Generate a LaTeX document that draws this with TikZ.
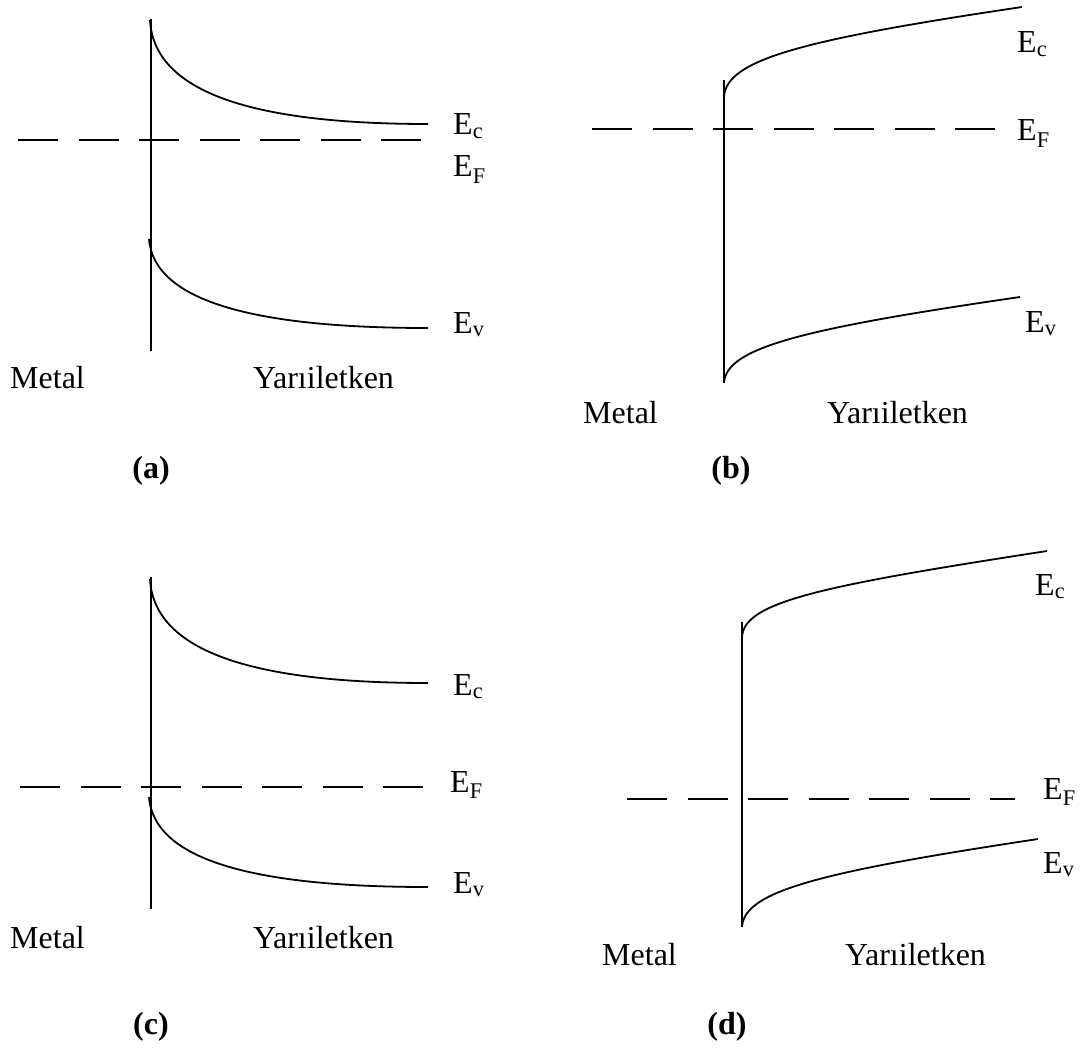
\documentclass[tikz,border=0pt]{standalone}
\usepackage{fontspec}
\setmainfont{Liberation Serif}
\begin{document}
\begin{tikzpicture}[x=1pt,y=-1pt,
  band/.style={line width=1.8pt},
  fermi/.style={line width=1.8pt,dash pattern=on 40pt off 20.5pt},
  lbl/.style={anchor=base west,inner sep=0pt,font=\fontsize{32}{38}\selectfont},
  panelcap/.style={anchor=base,inner sep=0pt,font=\fontsize{32}{38}\selectfont\bfseries}]
\useasboundingbox (0,0) rectangle (1091,1048);

% ---------- (a) ----------
\coordinate (aT) at (151,19);   \coordinate (aB) at (151,351);
\coordinate (aC0) at (150,20);  \coordinate (aC1) at (428,124);
\coordinate (aV0) at (149,239); \coordinate (aV1) at (428,328);
\coordinate (aF0) at (18,140);  \coordinate (aF1) at (426,140);
\draw[band] (aT) -- (aB);
\draw[band] (aC0) .. controls (154,95) and (260,124) .. (aC1);
\draw[band] (aV0) .. controls (154,303) and (260,328) .. (aV1);
\draw[fermi] (aF0) -- (aF1);
\node[lbl] (aEc) at (453,135) {E\textsubscript{c}};
\node[lbl] (aEF) at (453,177) {E\textsubscript{F}};
\node[lbl] (aEv) at (453,333) {E\textsubscript{v}};
\node[lbl] (aM) at (10,388) {Metal};
\node[lbl] (aY) at (253,388) {Yarıiletken};
\node[panelcap] (acap) at (151,478) {(a)};

% ---------- (b) ----------
\coordinate (bT) at (724,80);   \coordinate (bB) at (724,383);
\coordinate (bC0) at (724,97);  \coordinate (bC1) at (1022,7);
\coordinate (bV0) at (724,383); \coordinate (bV1) at (1020,297);
\coordinate (bF0) at (592,129); \coordinate (bF1) at (998,129);
\draw[band] (bT) -- (bB);
\draw[band] (bC0) .. controls (726,60) and (800,40) .. (bC1);
\draw[band] (bV0) .. controls (726,348) and (800,329) .. (bV1);
\draw[fermi] (bF0) -- (bF1);
\node[lbl] (bEc) at (1017,53) {E\textsubscript{c}};
\node[lbl] (bEF) at (1017,141) {E\textsubscript{F}};
\node[lbl] (bEv) at (1025,332) {E\textsubscript{v}};
\node[lbl] (bM) at (583,423) {Metal};
\node[lbl] (bY) at (827,423) {Yarıiletken};
\node[panelcap] (bcap) at (731,478) {(b)};

% ---------- (c) ----------
\coordinate (cT) at (151,577);  \coordinate (cB) at (151,909);
\coordinate (cC0) at (150,579); \coordinate (cC1) at (428,683);
\coordinate (cV0) at (149,797); \coordinate (cV1) at (428,887);
\coordinate (cF0) at (20,787);  \coordinate (cF1) at (425,787);
\draw[band] (cT) -- (cB);
\draw[band] (cC0) .. controls (154,654) and (260,683) .. (cC1);
\draw[band] (cV0) .. controls (154,862) and (260,887) .. (cV1);
\draw[fermi] (cF0) -- (cF1);
\node[lbl] (cEc) at (453,695) {E\textsubscript{c}};
\node[lbl] (cEF) at (450,792) {E\textsubscript{F}};
\node[lbl] (cEv) at (453,893) {E\textsubscript{v}};
\node[lbl] (cM) at (10,948) {Metal};
\node[lbl] (cY) at (253,948) {Yarıiletken};
\node[panelcap] (ccap) at (151,1034) {(c)};

% ---------- (d) ----------
\coordinate (dT) at (742,622);  \coordinate (dB) at (742,927);
\coordinate (dC0) at (742,637); \coordinate (dC1) at (1047,551);
\coordinate (dV0) at (742,927); \coordinate (dV1) at (1038,839);
\coordinate (dF0) at (627,799); \coordinate (dF1) at (1015,799);
\draw[band] (dT) -- (dB);
\draw[band] (dC0) .. controls (744,602) and (820,586) .. (dC1);
\draw[band] (dV0) .. controls (744,891) and (820,872) .. (dV1);
\draw[fermi] (dF0) -- (dF1);
\node[lbl] (dEc) at (1035,595) {E\textsubscript{c}};
\node[lbl] (dEF) at (1043,799) {E\textsubscript{F}};
\node[lbl] (dEv) at (1043,873) {E\textsubscript{v}};
\node[lbl] (dM) at (602,965) {Metal};
\node[lbl] (dY) at (845,965) {Yarıiletken};
\node[panelcap] (dcap) at (727,1034) {(d)};
\end{tikzpicture}
\end{document}
